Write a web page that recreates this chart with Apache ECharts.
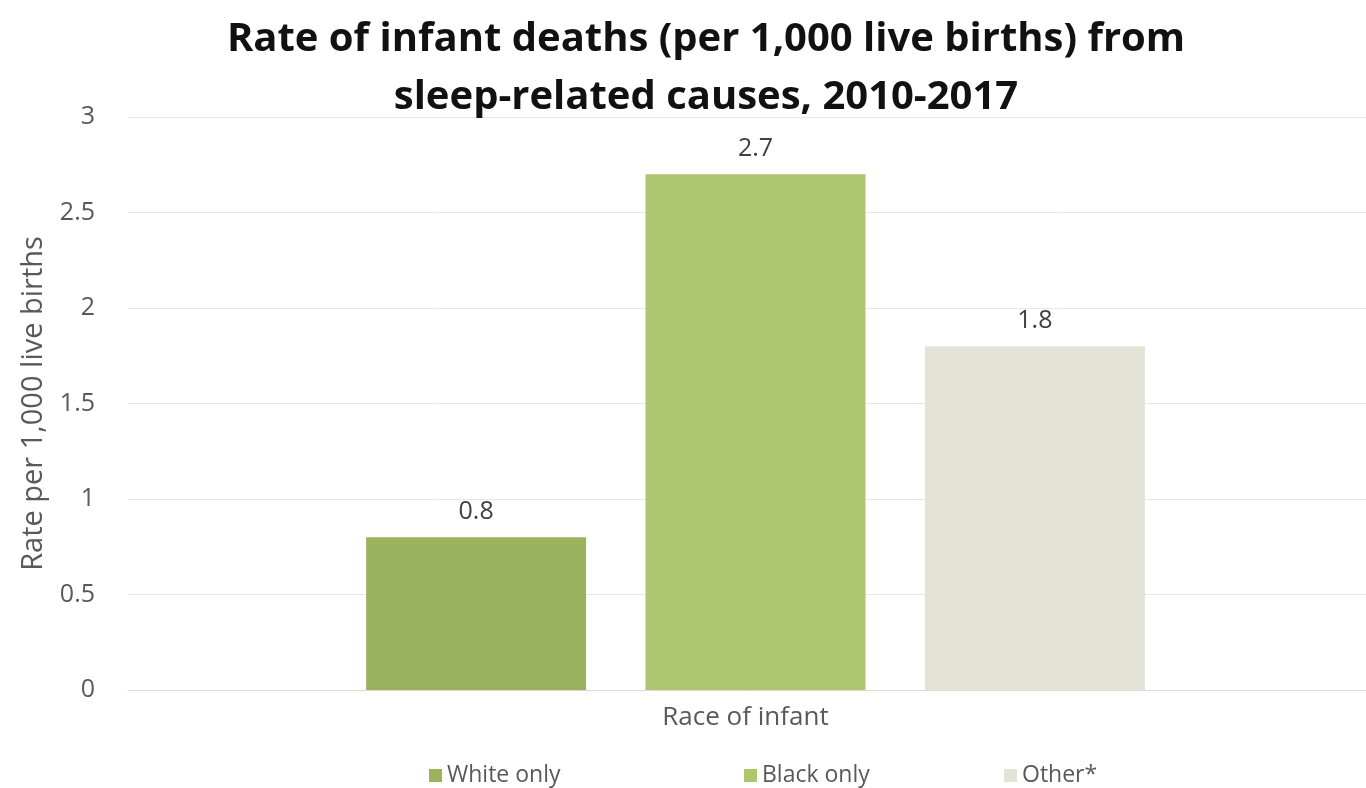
<!DOCTYPE html>
<html><head><meta charset="utf-8">
<script src="https://cdn.jsdelivr.net/npm/echarts@6/dist/echarts.min.js"></script>
<style>html,body{margin:0;padding:0;background:#fff}#c{width:1366px;height:788px}</style>
</head><body><div id="c"></div>
<script>
const categories = ["Race of infant"];
const seriesNames = ["White only", "Black only", "Other*"];
const whiteOnly = [0.8];
const blackOnly = [2.7];
const other = [1.8];
const colors = ["#9bb35f", "#aec66e", "#e3e4d5"];
const font = "'Open Sans', sans-serif";
const chart = echarts.init(document.getElementById('c'));
const dataSets = [whiteOnly, blackOnly, other];
const legendLefts = [424, 739, 999];
chart.setOption({
  animation: false,
  title: {
    text: "Rate of infant deaths (per 1,000 live births) from\nsleep-related causes, 2010-2017",
    left: 701, top: 6, textAlign: 'center',
    textStyle: {fontFamily: font, fontWeight: 'bold', fontSize: 40, lineHeight: 58, color: '#111'}
  },
  legend: seriesNames.map((n, i) => ({
    data: [n], top: 759, left: legendLefts[i], itemGap: 10,
    itemWidth: 13, itemHeight: 13, icon: 'rect',
    textStyle: {fontFamily: font, fontSize: 23, color: '#595959'}
  })),
  grid: {left: 128, width: 1255, top: 117, height: 573, outerBoundsMode: 'none', containLabel: false},
  xAxis: {
    type: 'category', data: categories,
    axisLine: {lineStyle: {color: '#d9d9d9'}}, axisTick: {show: false},
    axisLabel: {fontFamily: font, fontSize: 26, color: '#595959', margin: 15, padding: [0, 20, 0, 0]}
  },
  yAxis: {
    type: 'value', min: 0, max: 3, interval: 0.5,
    name: 'Rate per 1,000 live births', nameLocation: 'middle', nameGap: 80,
    nameTextStyle: {fontFamily: font, fontSize: 29, color: '#595959'},
    axisLabel: {fontFamily: font, fontSize: 25, color: '#595959', margin: 33},
    splitLine: {lineStyle: {color: '#e6e6e6'}},
    axisLine: {show: false}, axisTick: {show: false}
  },
  series: seriesNames.map((n, i) => ({
    name: n, type: 'bar', data: dataSets[i], barWidth: 220, barGap: '27%',
    itemStyle: {color: colors[i]},
    label: {show: true, position: 'top', distance: 13, fontFamily: font, fontSize: 25, color: '#404040'}
  }))
});
</script></body></html>
